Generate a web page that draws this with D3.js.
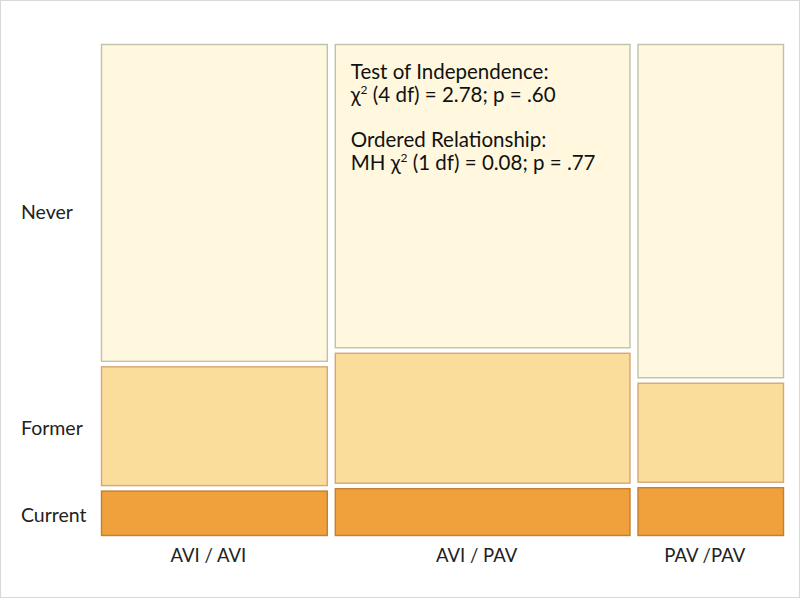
<!DOCTYPE html>
<html>
<head>
<meta charset="utf-8">
<script src="https://cdn.jsdelivr.net/npm/d3@7"></script>
<style>
  body { margin: 0; background: #fff; }
  svg { display: block; font-family: Lato, "Open Sans", sans-serif; }
</style>
</head>
<body>
<svg id="chart" width="800" height="600"></svg>
<script>
// Mosaic plot: column width = share of group, segment height = share within group
var groups = [ 'AVI / AVI', 'AVI / PAV', 'PAV /PAV' ],
    groupShare = [ 33.9, 44.2, 21.9 ],
    statuses = [ 'Never', 'Former', 'Current' ],
    never = [ 65.8, 63.0, 69.2 ],
    former = [ 24.8, 27.1, 20.7 ],
    current = [ 9.4, 9.9, 10.1 ],
    notes = [
        [ 'Test of Independence:' ],
        [ 'χ', '2', ' (4 df) = 2.78; p = .60' ],
        [],
        [ 'Ordered Relationship:' ],
        [ 'MH χ', '2', ' (1 df) = 0.08; p = .77' ]
    ];

var fills = [ '#fff8de', '#fbdd9b', '#f0a13c' ],
    strokes = [ '#bfc2a6', '#d6a674', '#c47f30' ];

var svg = d3.select( '#chart' );

svg.append( 'rect' )
    .attr( 'x', 0.5 ).attr( 'y', 0.5 )
    .attr( 'width', 799 ).attr( 'height', 597 )
    .attr( 'fill', 'none' )
    .attr( 'stroke', '#d9d9d9' );

var plotLeft = 101, plotRight = 784, plotTop = 44, plotBottom = 536,
    colGap = 7, rowGap = 4.5;

// cumulative x positions for the columns
var xScale = d3.scaleLinear()
    .domain( [ 0, d3.sum( groupShare ) ] )
    .range( [ plotLeft, plotRight - colGap * ( groups.length - 1 ) ] );

var cols = groups.map( function( g, i ) {
    var start = d3.sum( groupShare.slice( 0, i ) ),
        x0 = xScale( start ) + i * colGap,
        x1 = xScale( start + groupShare[ i ] ) + i * colGap;
    return { name: g, x0: x0, x1: x1, values: [ never[ i ], former[ i ], current[ i ] ] };
} );

var yScale = d3.scaleLinear()
    .domain( [ 0, 100 ] )
    .range( [ plotTop, plotBottom - rowGap * ( statuses.length - 1 ) ] );

cols.forEach( function( c ) {
    var acc = 0;
    c.cells = c.values.map( function( v, si ) {
        var y0 = yScale( acc ) + si * rowGap,
            y1 = yScale( acc + v ) + si * rowGap;
        acc += v;
        return { x0: c.x0, x1: c.x1, y0: y0, y1: y1, s: si };
    } );
} );

var g = svg.append( 'g' );

cols.forEach( function( c ) {
    g.selectAll( null )
        .data( c.cells )
        .enter()
        .append( 'rect' )
        .attr( 'x', function( d ) { return d.x0 + 0.5; } )
        .attr( 'y', function( d ) { return d.y0 + 0.5; } )
        .attr( 'width', function( d ) { return d.x1 - d.x0 - 1; } )
        .attr( 'height', function( d ) { return d.y1 - d.y0 - 1; } )
        .attr( 'fill', function( d ) { return fills[ d.s ]; } )
        .attr( 'stroke', function( d ) { return strokes[ d.s ]; } )
        .attr( 'stroke-width', 1.4 );
} );

// row labels, centred on first column segments
svg.selectAll( '.row-label' )
    .data( cols[ 0 ].cells )
    .enter()
    .append( 'text' )
    .attr( 'class', 'row-label' )
    .attr( 'x', 21 )
    .attr( 'y', function( d, i ) { return ( d.y0 + d.y1 ) / 2 + ( i === 0 ? 16 : 9 ); } )
    .attr( 'font-size', 19.5 )
    .attr( 'fill', '#222' )
    .text( function( d, i ) { return statuses[ i ]; } );

// column labels
svg.selectAll( '.col-label' )
    .data( cols )
    .enter()
    .append( 'text' )
    .attr( 'class', 'col-label' )
    .attr( 'x', function( d ) { return ( d.x0 + d.x1 ) / 2 - 6; } )
    .attr( 'y', 562 )
    .attr( 'text-anchor', 'middle' )
    .attr( 'font-size', 18.5 )
    .attr( 'fill', '#222' )
    .text( function( d ) { return d.name; } );

// statistics note inside the middle column
var note = svg.append( 'text' )
    .attr( 'font-size', 20.5 )
    .attr( 'fill', '#111' );

notes.forEach( function( parts, li ) {
    var y = 79 + li * 22.8;
    if( !parts.length ) return;
    var line = note.append( 'tspan' ).attr( 'x', cols[ 1 ].x0 + 16 ).attr( 'y', y );
    parts.forEach( function( p, pi ) {
        var t = line.append( 'tspan' ).text( p );
        if( pi === 1 ) t.attr( 'font-size', 12 ).attr( 'dy', -8 );
        if( pi === 2 ) t.attr( 'dy', 8 );
    } );
} );
</script>
</body>
</html>
